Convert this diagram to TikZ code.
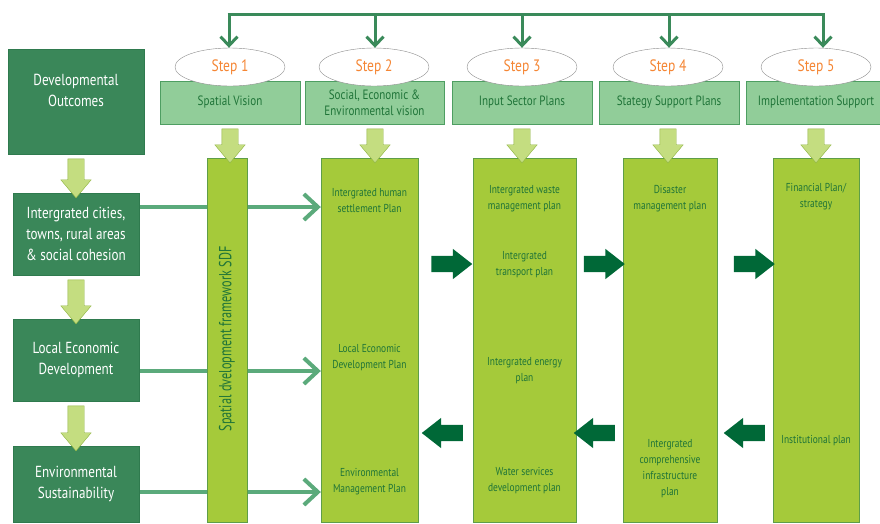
\documentclass[tikz,border=0pt]{standalone}
\usepackage{fontspec}
\setmainfont{PT Sans}[FakeStretch=0.82]
\newfontfamily\narrowfont{PT Sans}[FakeStretch=0.7]
\usetikzlibrary{shapes.arrows,shapes.geometric,arrows.meta,backgrounds,calc}

\definecolor{outcomefill}{HTML}{3A8759}
\definecolor{outcomeline}{HTML}{2F7A4E}
\definecolor{headfill}{HTML}{91CD99}
\definecolor{headline}{HTML}{4E9E62}
\definecolor{colfill}{HTML}{A5CA3A}
\definecolor{colline}{HTML}{5E9E48}
\definecolor{hintfill}{HTML}{C4DD80}
\definecolor{hintline}{HTML}{8DB33F}
\definecolor{flowgreen}{HTML}{006837}
\definecolor{busgreen}{HTML}{3A8A5A}
\definecolor{feedgreen}{HTML}{5BAA7B}
\definecolor{plantext}{HTML}{1F7438}
\definecolor{steporange}{HTML}{F58634}

\begin{document}
\begin{tikzpicture}[x=1pt,y=-1pt]
    \tikzstyle{outcome box}=[draw=outcomeline, fill=outcomefill, text=white, align=center, inner sep=0pt, font=\fontsize{16}{21}\selectfont]
    \tikzstyle{step oval}=[ellipse, draw=black!45, fill=white, minimum width=110, minimum height=38, inner sep=0pt, text=steporange, font=\fontsize{16.5}{18}\selectfont]
    \tikzstyle{stage head}=[draw=headline, fill=headfill, text=plantext, align=center, minimum height=43, inner sep=0pt, font=\fontsize{13.5}{16}\selectfont]
    \tikzstyle{stage column}=[draw=colline, fill=colfill, minimum height=364, inner sep=0pt]
    \tikzstyle{plan text}=[text=plantext, align=center, inner sep=0pt, font=\fontsize{11.5}{16}\selectfont]
    \tikzstyle{down arrow}=[single arrow, rotate=-90, draw=hintline, fill=hintfill, minimum width=30, single arrow head extend=7, single arrow tip angle=80, inner xsep=0pt, inner ysep=8pt]
    \tikzstyle{flow arrow}=[single arrow, fill=flowgreen, minimum height=41, minimum width=30, single arrow head extend=7, single arrow tip angle=76, inner xsep=0pt, inner ysep=8pt]
    \tikzstyle{bus line}=[draw=busgreen, line width=3pt]
    \tikzstyle{feed line}=[draw=feedgreen, line width=4pt]

    \useasboundingbox (0,0) rectangle (880,523);

    % Draw the outcome boxes on the left
    \node[outcome box, minimum width=136, minimum height=105] (dev) at (76,101.5) {};
    \node[outcome box, draw=none, fill=none] (dev-t) at (76,90) {Developmental\\Outcomes};
    \node[outcome box, minimum width=126, minimum height=82] (city) at (76,234) {Intergrated cities,\\towns, rural areas\\\& social cohesion};
    \node[outcome box, minimum width=126, minimum height=82] (led) at (76,360) {Local Economic\\Development};
    \node[outcome box, minimum width=126, minimum height=76] (env) at (76,484) {Environmental\\Sustainability};

    \foreach \a/\b/\len in {dev/city/39, city/led/44, led/env/45}
      \node[down arrow, minimum height=\len] (\a-\b) at ($(\a.south)!0.5!(\b.north)$) {};

    % Draw the stage headers and columns
    \foreach \i/\x/\w/\txt in {1/230/140/{Spatial Vision}, 2/374.5/139/{Social, Economic \&\\Environmental vision}, 3/522/140/{Input Sector Plans}, 4/669/140/{Stategy Support Plans}, 5/816/140/{Implementation Support}}
      \node[stage head, minimum width=\w] (head-\i) at (\x,102.5) {\txt};

    \foreach \i/\x/\w in {1/227/40, 2/369.5/97, 3/524.5/103, 4/670/94, 5/816/86}
      \node[stage column, minimum width=\w] (plan-\i) at (\x,340) {};

    \foreach \i/\x in {1/230, 2/375, 3/522, 4/668, 5/816}
      \node[down arrow, minimum height=34] (drop-\i) at (\x,141) {};

    % Draw the steps and the bus above them
    \foreach \i/\x in {1/230, 2/374, 3/522, 4/668, 5/816}
      \node[step oval] (step-\i) at (\x,67) {Step \i};

    \foreach \i/\x in {1/229, 2/375, 3/522, 4/669, 5/823}
      \coordinate (bus-\i) at (\x,14);
    \draw[bus line] ([xshift=-1.5pt]bus-1) -- ([xshift=1.5pt]bus-5);
    \foreach \i in {1,...,5}
      \draw[bus line, -{Straight Barb[length=9pt,width=17pt]}] (bus-\i) -- (bus-\i |- step-\i.north);

    % Draw the feeds from the outcomes into the plans
    \begin{scope}[on background layer]
      \foreach \src/\y in {city/207, led/371, env/492}
        \draw[feed line, -{Straight Barb[length=14pt,width=26pt]}] (\src.east |- 0,\y) -- (plan-2.west |- 0,\y);
    \end{scope}

    \node[plan text, rotate=90, font=\narrowfont\fontsize{17.5}{18}\selectfont] (sdf) at ([yshift=1pt]plan-1.center) {Spatial dvelopment framework SDF};

    % Draw the plan labels inside the columns
    \foreach \i/\y/\txt/\n in {2/201/{Intergrated human\\settlement Plan}/a, 2/358/{Local Economic\\Development Plan}/b, 2/482/{Environmental\\Management Plan}/c,
        3/199/{Intergrated waste\\management plan}/a, 3/265/{Intergrated\\transport plan}/b, 3/371/{Intergrated energy\\plan}/c, 3/481/{Water services\\development plan}/d,
        4/199/{Disaster\\management plan}/a, 4/469/{Intergrated\\comprehensive\\infrastructure\\plan}/b,
        5/197/{Financial Plan/\\strategy}/a, 5/441/{Institutional plan}/b}
      \node[plan text] (label-\i\n) at (plan-\i.center |- 0,\y) {\txt};

    % Draw the flow arrows between the columns
    \foreach \i/\x in {1/446.5, 2/599, 3/749}
      \node[flow arrow] (fwd-\i) at (\x,264) {};
    \foreach \i/\x in {1/447.5, 2/599.5, 3/749.5}
      \node[flow arrow, rotate=180] (back-\i) at (\x,433) {};
\end{tikzpicture}
\end{document}
